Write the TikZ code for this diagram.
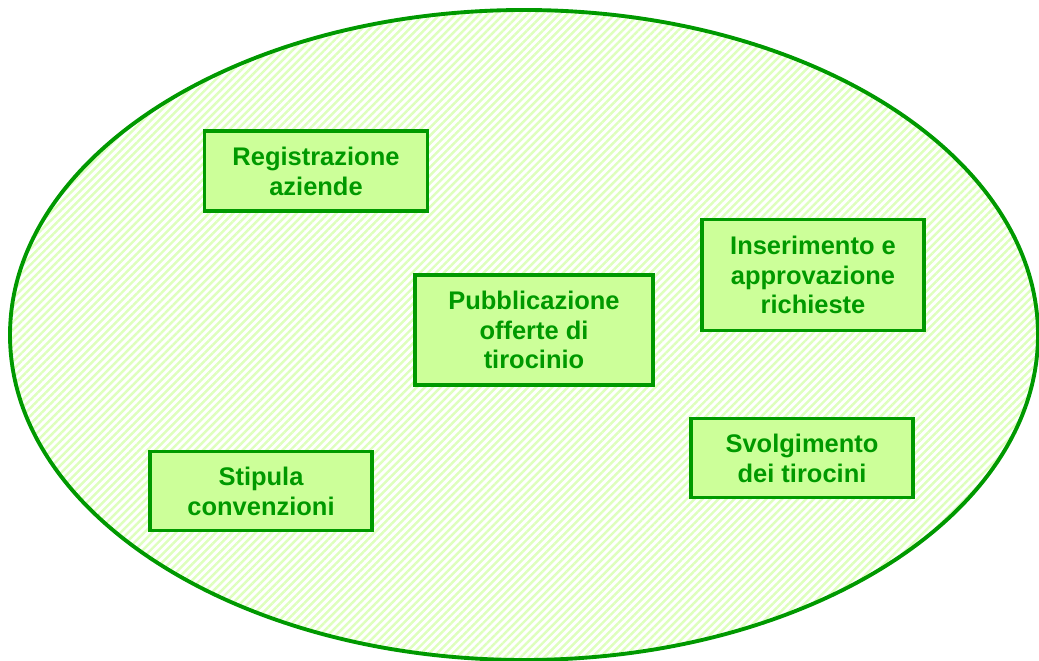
\documentclass[tikz,border=0pt]{standalone}
\usepackage{fontspec}
\setmainfont{Liberation Sans}
\usepackage{tikz}
\usetikzlibrary{patterns.meta}
\definecolor{darkgreen}{HTML}{009900}
\definecolor{lightgreen}{HTML}{CCFF99}

\begin{document}
\begin{tikzpicture}[x=0.02cm,y=-0.02cm,
  task/.style={draw=darkgreen,line width=2.2pt,fill=lightgreen,text=darkgreen,
    font=\fontsize{14.5}{17}\selectfont\bfseries,align=center,inner sep=0pt}]
\useasboundingbox (0,0) rectangle (1039,661);
\draw[darkgreen,line width=2.2pt,pattern={Lines[angle=45,distance=3.2pt,line width=1.4pt]},pattern color=lightgreen!65] (524,335) ellipse (514 and 325);
\node[task,minimum width=223*0.02cm,minimum height=80*0.02cm] (reg) at (316,171) {Registrazione\\aziende};
\node[task,minimum width=238*0.02cm,minimum height=110*0.02cm] (pub) at (534,330) {Pubblicazione\\offerte di\\tirocinio};
\node[task,minimum width=222*0.02cm,minimum height=111*0.02cm] (ins) at (813,275) {Inserimento e\\approvazione\\richieste};
\node[task,minimum width=222*0.02cm,minimum height=79*0.02cm] (sti) at (261,491) {Stipula\\convenzioni};
\node[task,minimum width=222*0.02cm,minimum height=79*0.02cm] (svo) at (802,458) {Svolgimento\\dei tirocini};
\end{tikzpicture}
\end{document}
